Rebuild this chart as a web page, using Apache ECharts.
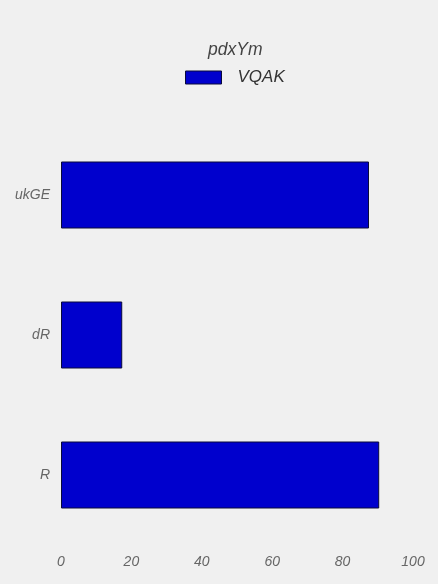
<!DOCTYPE html>
<html><head><meta charset="utf-8">
<script src="https://cdn.jsdelivr.net/npm/echarts@6/dist/echarts.min.js"></script>
<style>html,body{margin:0;padding:0;background:#f0f0f0}#c{width:438px;height:584px}</style>
</head><body><div id="c"></div>
<script>
const categories = ['R', 'dR', 'ukGE'];
const values = [90.4, 17.4, 87.5];
const seriesName = 'VQAK';
const legendTitle = 'pdxYm';
const xTicks = [0, 20, 40, 60, 80, 100];

const chart = echarts.init(document.getElementById('c'));
chart.setOption({
  backgroundColor: '#f0f0f0',
  animation: false,
  title: {
    text: legendTitle, left: 203, top: 36,
    textStyle: {fontFamily: 'Liberation Sans', fontStyle: 'italic', fontWeight: 'normal', fontSize: 17.5, color: '#444'}
  },
  legend: {
    top: 64, left: 180, itemWidth: 36, itemHeight: 13, icon: 'rect',
    itemStyle: {borderColor: '#0a0a3a', borderWidth: 1},
    textStyle: {fontFamily: 'Liberation Sans', fontStyle: 'italic', fontSize: 17, color: '#333', padding: [0, 0, 0, 11]},
    data: [seriesName]
  },
  grid: {left: 61, right: 25, top: 125, bottom: 39, containLabel: false},
  xAxis: {
    type: 'value', min: 0, max: 100, interval: 20,
    axisLine: {show: false}, axisTick: {show: false}, splitLine: {show: false},
    axisLabel: {margin: 10, fontFamily: 'Liberation Sans', fontStyle: 'italic', fontSize: 14, color: '#666',
      formatter: v => xTicks.includes(v) ? String(v) : ''}
  },
  yAxis: {
    type: 'category', data: categories,
    axisLine: {show: false}, axisTick: {show: false}, splitLine: {show: false},
    axisLabel: {margin: 11, padding: [5, 0, 0, 0], fontFamily: 'Liberation Sans', fontStyle: 'italic', fontSize: 14, color: '#666'}
  },
  series: [{
    name: seriesName, type: 'bar', data: values, barWidth: 67,
    itemStyle: {color: '#0000cd', borderColor: '#0a0a3a', borderWidth: 1}
  }]
});
</script></body></html>
